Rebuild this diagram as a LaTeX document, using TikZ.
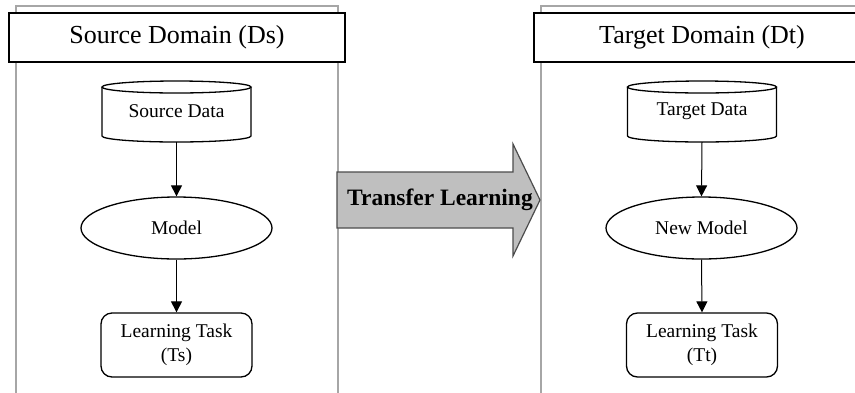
\documentclass[tikz,border=0pt]{standalone}
\usepackage{fontspec}
\setmainfont{Liberation Serif}
\usetikzlibrary{arrows.meta,shapes.geometric}

\tikzset{
  x=1pt, y=1pt,
  panel/.style={draw=black!35, line width=1.6pt},
  titlebox/.style={draw=black, fill=white, line width=1.4pt, minimum width=336pt,
    minimum height=49pt, inner sep=0pt, font=\fontsize{26}{30}\selectfont},
  datanode/.style={minimum width=149pt, minimum height=61pt, inner sep=0pt,
    font=\fontsize{19.5}{24}\selectfont},
  cyl/.style={draw=black, line width=1.3pt, fill=white},
  modelnode/.style={ellipse, draw=black, line width=1.3pt, fill=white,
    minimum width=191pt, minimum height=62pt, inner sep=0pt,
    font=\fontsize{19.5}{24}\selectfont},
  tasknode/.style={draw=black, line width=1.3pt, fill=white, rounded corners=11pt,
    minimum width=151pt, minimum height=64pt, inner sep=0pt, align=center,
    font=\fontsize{19.5}{24}\selectfont},
  flow/.style={draw=black, line width=1pt, -{Triangle[length=11pt,width=11pt]}},
  bigarrow/.style={draw=black!70, line width=1.2pt, fill=black!25},
}

\begin{document}
\begin{tikzpicture}
\useasboundingbox (0,0) rectangle (855,-392);
\clip (0,0) rectangle (855,-392);

% domain panels
\draw[panel] (16,-400) -- (16,-6) -- (338,-6) -- (338,-400);
\draw[panel] (541,-400) -- (541,-6) -- (863,-6) -- (863,-400);

% panel titles
\node[titlebox] (srctitle) at (177,-37.5) {Source Domain (Ds)};
\node[titlebox] (tgttitle) at (702,-37.5) {Target Domain (Dt)};

% data stores drawn as cylinders
\foreach \cx in {176.5,702} {
  \draw[cyl] (\cx-74.5,-87) -- (\cx-74.5,-136)
    arc[start angle=180, end angle=360, x radius=74.5pt, y radius=6pt]
    -- (\cx+74.5,-87);
  \draw[cyl] (\cx,-87) ellipse[x radius=74.5pt, y radius=6pt];
}
\node[datanode] (srcdata) at (176.5,-111.5) {Source Data};
\node[datanode] (tgtdata) at (702,-111.5) {Target Data};
\coordinate (srcbot) at (176.5,-142);
\coordinate (tgtbot) at (702,-142);

% models
\node[modelnode] (srcmodel) at (176.5,-228) {Model};
\node[modelnode] (tgtmodel) at (701.5,-228) {New Model};

% learning tasks
\node[tasknode] (srctask) at (176.5,-345) {Learning Task\\(Ts)};
\node[tasknode] (tgttask) at (702,-345) {Learning Task\\(Tt)};

% flows
\draw[flow] (srcbot) -- (srcmodel.north);
\draw[flow] (srcmodel.south) -- (srctask.north);
\draw[flow] (tgtbot) -- (tgtmodel.north);
\draw[flow] (tgtmodel.south) -- (tgttask.north);

% transfer arrow
\draw[bigarrow] (337,-172) -- (513,-172) -- (513,-144) -- (540,-200)
  -- (513,-256) -- (513,-228) -- (337,-228) -- cycle;
\node[font=\fontsize{23.5}{28}\selectfont\bfseries] (transfer) at (440,-200) {Transfer Learning};
\end{tikzpicture}
\end{document}
